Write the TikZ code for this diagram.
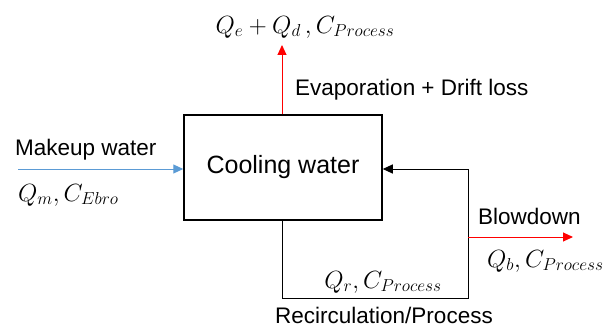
\documentclass[tikz,border=0pt]{standalone}
\usepackage{fontspec}
\setmainfont{Liberation Sans}
\usetikzlibrary{arrows.meta}
\definecolor{mblue}{RGB}{91,155,213}
\definecolor{mred}{RGB}{255,0,0}
\tikzset{
  lbl/.style={font=\fontsize{22.5}{26}\selectfont, inner sep=0pt},
  mth/.style={font=\fontsize{25}{28}\selectfont, inner sep=0pt},
  tip/.style={-{Triangle[length=10pt,width=9pt]}},
}
\begin{document}
\begin{tikzpicture}[x=1pt,y=-1pt]
\useasboundingbox (0,0) rectangle (608,329);
\node[draw, line width=1.5pt, minimum width=198pt, minimum height=105pt, inner sep=0pt,
  font=\fontsize{25}{28}\selectfont] (cw) at (283,167.5) {Cooling water};
% top
\coordinate (top) at (282,45);
\draw[mred, line width=1pt, tip] (cw.north -| top) -- (top);
\node[mth] (qtop) at (305,27) {$Q_e + Q_d \,, C_{Process}$};
\node[lbl, anchor=west] (evap) at (295,90) {Evaporation + Drift loss};
% makeup
\coordinate (min) at (18,169);
\draw[mblue, line width=1pt, tip] (min) -- (min -| cw.west);
\node[lbl, anchor=west] (mk) at (15,150) {Makeup water};
\node[mth, anchor=west] (qm) at (18,195) {$Q_m, C_{Ebro}$};
% recirculation loop
\coordinate (bl) at (282,298);
\coordinate (br) at (468,298);
\coordinate (tr) at (468,169);
\draw[black, line width=1pt, tip] (cw.south -| bl) -- (bl) -- (br) -- (tr) -- (tr -| cw.east);
\node[mth] (qr) at (383,282) {$Q_r, C_{Process}$};
\node[lbl] (rec) at (384,315.5) {Recirculation/Process};
% blowdown
\coordinate (bd0) at (468,237);
\coordinate (bd1) at (573,237);
\draw[mred, line width=1pt, tip] (bd0) -- (bd1);
\node[lbl, anchor=west] (bd) at (478,216) {Blowdown};
\node[mth, anchor=west] (qb) at (487,261) {$Q_b, C_{Process}$};
\end{tikzpicture}
\end{document}
